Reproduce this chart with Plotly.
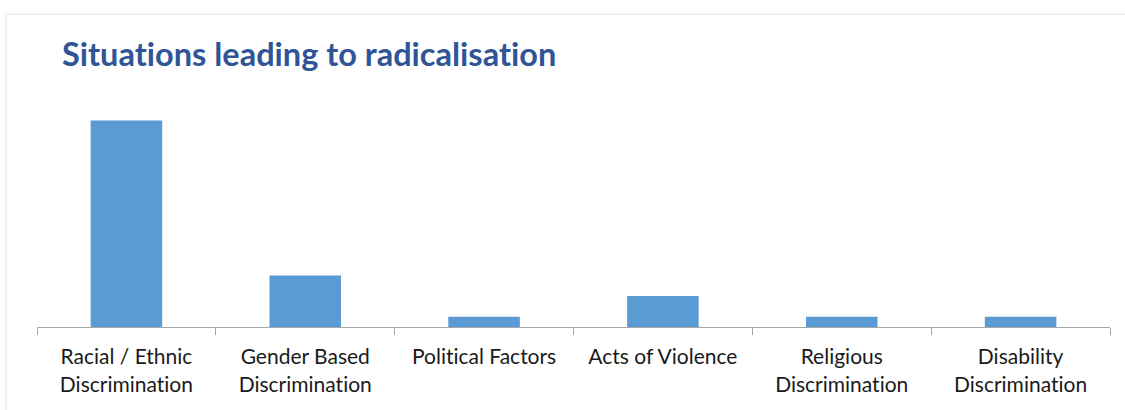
import plotly.graph_objects as go

categories = [
    "Racial / Ethnic<br>Discrimination",
    "Gender Based<br>Discrimination",
    "Political Factors",
    "Acts of Violence",
    "Religious<br>Discrimination",
    "Disability<br>Discrimination",
]
counts = [20, 5, 1, 3, 1, 1]
title_text = "Situations leading to radicalisation"

BAR_COLOR = "#5B9BD5"
AXIS_COLOR = "#A6A6A6"
TITLE_COLOR = "#2F5597"
FONT = "Lato, Calibri, 'Open Sans', sans-serif"

W, H = 1125, 410
ml, mr, mt, mb = 37, 15, 69, 83
pw, ph = W - ml - mr, H - mt - mb

fig = go.Figure(
    go.Bar(
        x=categories,
        y=counts,
        width=0.4,
        marker=dict(color=BAR_COLOR, line=dict(width=0)),
        hoverinfo="x+y",
    )
)

# light frame around the chart area (left and top edges visible)
fig.add_shape(
    type="rect", xref="paper", yref="paper",
    x0=(6 - ml) / pw, x1=(W + 10 - ml) / pw,
    y0=-(mb + 20) / ph, y1=1 + (mt - 14) / ph,
    line=dict(color="#E3E3E3", width=1), fillcolor="rgba(0,0,0,0)",
    layer="below",
)

fig.update_layout(
    width=W, height=H,
    margin=dict(l=ml, r=mr, t=mt, b=mb, pad=0),
    paper_bgcolor="white", plot_bgcolor="white",
    showlegend=False,
    bargap=0.6,
    title=dict(
        text=f"<b>{title_text}</b>",
        font=dict(family=FONT, size=32.5, color=TITLE_COLOR),
        xref="container", yref="container",
        x=62 / W, xanchor="left",
        y=1 - 55 / H, yanchor="middle",
    ),
    font=dict(family=FONT),
)

fig.update_xaxes(
    showline=True, linecolor=AXIS_COLOR, linewidth=1,
    ticks="outside", tickson="boundaries", ticklen=7,
    tickcolor=AXIS_COLOR, tickwidth=1,
    tickfont=dict(family=FONT, size=21, color="#1A1A1A"),
    showgrid=False, zeroline=False,
    ticklabelstandoff=11,
)
fig.update_yaxes(
    range=[0, 25], visible=False, showgrid=False, zeroline=False,
)

# plain letter shapes: turn off the font's "ti" ligature in all chart text
no_ligatures = """
var st = document.createElement('style');
st.textContent = '.js-plotly-plot text { font-variant-ligatures: none; font-feature-settings: "liga" 0, "clig" 0; }';
document.head.appendChild(st);
"""

fig.write_html("out.html", post_script=no_ligatures)
